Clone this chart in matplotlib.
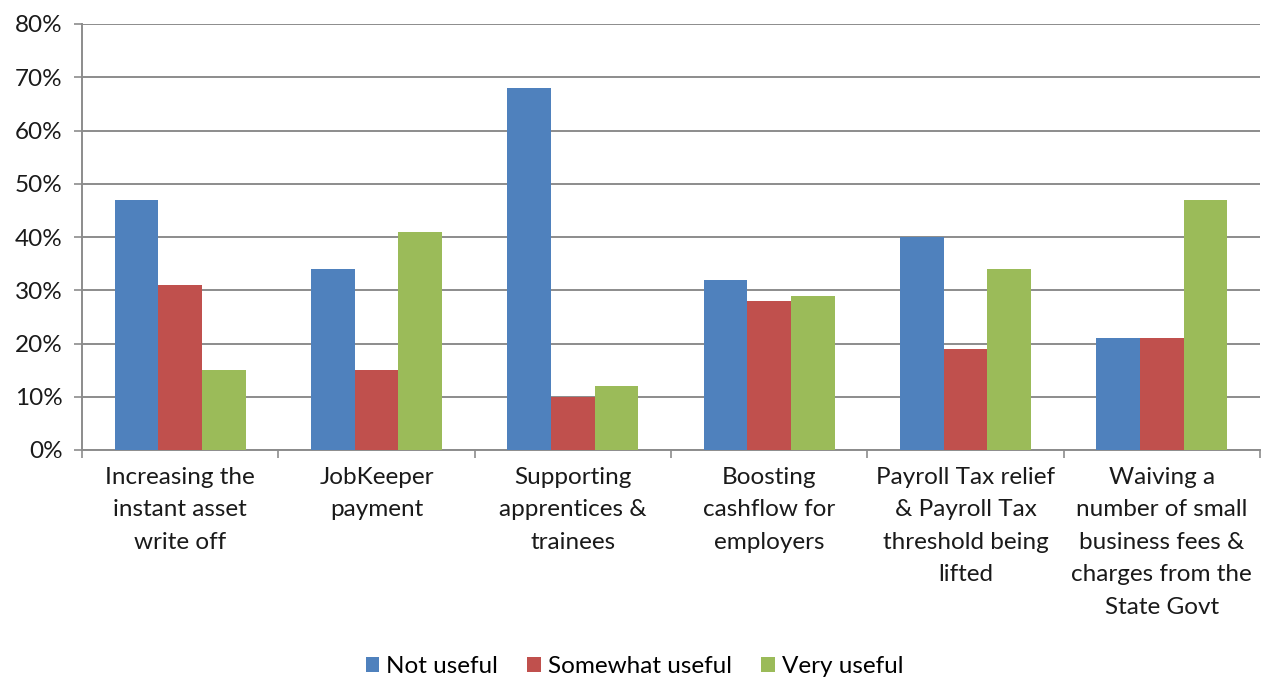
import matplotlib.pyplot as plt
import numpy as np
from matplotlib.ticker import PercentFormatter

# Dữ liệu
categories = [
    "Increasing the\ninstant asset\nwrite off",
    "JobKeeper\npayment",
    "Supporting\napprentices &\ntrainees",
    "Boosting\ncashflow for\nemployers",
    "Payroll Tax relief\n& Payroll Tax\nthreshold being\nlifted",
    "Waiving a\nnumber of small\nbusiness fees &\ncharges from the\nState Govt",
]
series_names = ["Not useful", "Somewhat useful", "Very useful"]
not_useful = [47, 34, 68, 32, 40, 21]
somewhat_useful = [31, 15, 10, 28, 19, 21]
very_useful = [15, 41, 12, 29, 34, 47]
colors = ["#4F81BD", "#C0504D", "#9BBB59"]

plt.rcParams['font.family'] = ['Lato', 'DejaVu Sans']
fs = 17.5

fig = plt.figure(figsize=(12.69, 6.82), dpi=100)
ax = fig.add_axes([82 / 1269, 1 - 450 / 682, (1260 - 82) / 1269, (450 - 24) / 682])

x = np.arange(len(categories))
w = 0.222
for i, (vals, name) in enumerate(zip([not_useful, somewhat_useful, very_useful], series_names)):
    ax.bar(x + (i - 1) * w, vals, width=w, color=colors[i], label=name, zorder=3)

ax.set_xlim(-0.5, len(categories) - 0.5)
ax.set_ylim(0, 80)
ax.set_yticks(range(0, 81, 10))
ax.yaxis.set_major_formatter(PercentFormatter(decimals=0))
ax.grid(axis='y', color='#8c8c8c', linewidth=1.4, zorder=0)

ax.set_xticks(x)
ax.set_xticklabels(categories, fontsize=fs, color='#1a1a1a', linespacing=1.68)
ax.set_xticks(np.arange(-0.5, len(categories), 1), minor=True)
ax.tick_params(axis='x', which='major', length=0, pad=12)
ax.tick_params(axis='x', which='minor', length=6, color='#8c8c8c', width=1.2)
ax.tick_params(axis='y', length=6, color='#8c8c8c', width=1.2, labelsize=fs, labelcolor='#1a1a1a', pad=8)

for s in ['top', 'right']:
    ax.spines[s].set_visible(False)
for s in ['left', 'bottom']:
    ax.spines[s].set_color('#8c8c8c')
    ax.spines[s].set_linewidth(1.4)

fig.legend(loc='lower center', bbox_to_anchor=(0.5, -0.025), ncol=3, frameon=False,
           fontsize=fs, handlelength=0.55, handleheight=0.55, handletextpad=0.3, columnspacing=1.2)

fig.savefig("out.png", dpi=100)
